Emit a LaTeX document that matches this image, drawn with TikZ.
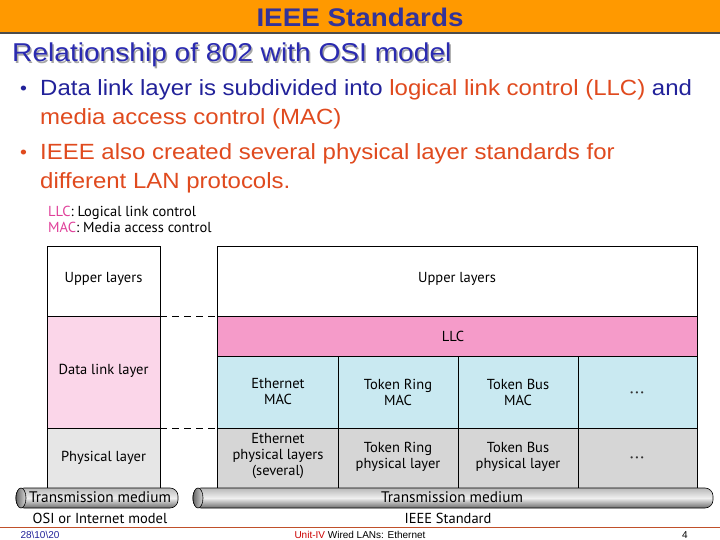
\documentclass[tikz,border=0pt]{standalone}
\usepackage{fontspec}
\setmainfont{Liberation Sans}
\newfontfamily\wide[FakeStretch=1.09]{Liberation Sans}
\newfontfamily\dfont{PT Sans}
\definecolor{tblue}{HTML}{333399}
\definecolor{sblue}{HTML}{2A2AB0}
\definecolor{bblue}{HTML}{22229A}
\definecolor{bred}{HTML}{E04A1E}
\definecolor{orangeband}{HTML}{FF9900}
\definecolor{pinkL}{HTML}{FBD6E9}
\definecolor{pinkLLC}{HTML}{F59BC9}
\definecolor{macblue}{HTML}{C9E9F1}
\definecolor{grayL}{HTML}{E6E6E6}
\definecolor{grayR}{HTML}{D6D6D6}
\definecolor{legpink}{HTML}{E0409A}
\definecolor{footred}{HTML}{C0502A}
\tikzset{
  cell/.style={draw=black, line width=0.6pt, inner sep=0pt},
  dtext/.style={font=\dfont\fontsize{14.5}{16}\selectfont, align=center, text=black},
  btext/.style={font=\wide\fontsize{22}{24}\selectfont, anchor=base west, inner sep=0pt},
  tube/.style={top color=gray!55, bottom color=gray!85!black, middle color=gray!12, draw=black, line width=0.6pt},
  dashline/.style={dash pattern=on 7pt off 5pt, line width=0.8pt},
  foot/.style={font=\fontsize{10}{12}\selectfont, anchor=base, inner sep=0pt},
  dots/.style={font=\fontsize{8}{8}\selectfont, text=black!80}
}
\begin{document}
\begin{tikzpicture}[x=1pt,y=-1pt]
\useasboundingbox (0,0) rectangle (720,540);
\fill[white] (0,0) rectangle (720,540);
% title band
\fill[gray!60!black] (0,31) rectangle (720,34);
\fill[orangeband] (0,0) rectangle (720,32);
\node[font=\wide\bfseries\fontsize{25.5}{27}\selectfont, text=tblue, anchor=base, inner sep=0pt] (title) at (360,27) {IEEE Standards};
\node[font=\wide\fontsize{25.8}{28}\selectfont, text=gray!70, anchor=base west, inner sep=0pt] (subsh) at (13.5,63.5) {Relationship of 802 with OSI model};
\node[font=\wide\fontsize{25.8}{28}\selectfont, text=sblue, anchor=base west, inner sep=0pt] (sub) at (12,62) {Relationship of 802 with OSI model};
% bullets
\node[btext, text=bblue, font=\wide\fontsize{18}{20}\selectfont] (b1d) at (20,95) {•};
\node[btext] (l1) at (40,96) {\textcolor{bblue}{Data link layer is subdivided into}\ \textcolor{bred}{logical link control (LLC)}\ \textcolor{bblue}{and}};
\node[btext, text=bred] (l2) at (40,125) {media access control (MAC)};
\node[btext, text=bred, font=\wide\fontsize{18}{20}\selectfont] (b2d) at (20,159) {•};
\node[btext, text=bred] (l3) at (40,160) {IEEE also created several physical layer standards for};
\node[btext, text=bred] (l4) at (40,189) {different LAN protocols.};
% legend
\node[dtext, anchor=base west, inner sep=0pt] (leg1) at (48,216) {\textcolor{legpink}{LLC}: Logical link control};
\node[dtext, anchor=base west, inner sep=0pt] (leg2) at (48,233) {\textcolor{legpink}{MAC}: Media access control};
% left column
\draw[cell, fill=white] (47,246) rectangle (160,316);
\draw[cell, fill=pinkL] (47,316) rectangle (160,428);
\draw[cell, fill=grayL] (47,428) rectangle (160,488);
\node[dtext] (lup) at (103.5,279) {Upper layers};
\node[dtext] (ldl) at (103.5,371) {Data link layer};
\node[dtext] (lph) at (103.5,458) {Physical layer};
% dashed lines
\coordinate (d1a) at (160,316); \coordinate (d1b) at (217,316);
\coordinate (d2a) at (160,428); \coordinate (d2b) at (217,428);
\draw[dashline] (d1a) -- (d1b);
\draw[dashline] (d2a) -- (d2b);
% right column
\draw[cell, fill=white] (217,246) rectangle (697,316);
\draw[cell, fill=pinkLLC] (217,316) rectangle (697,356);
\foreach \a/\b in {217/338,338/458,458/578,578/697}{
  \draw[cell, fill=macblue] (\a,356) rectangle (\b,428);
  \draw[cell, fill=grayR] (\a,428) rectangle (\b,488);
}
\draw[line width=1pt] (217,316) -- (697,316);
\node[dtext] (rup) at (457,279) {Upper layers};
\node[dtext] (llc) at (453,336) {LLC};
\node[dtext] (em) at (278,392) {Ethernet\\MAC};
\node[dtext] (trm) at (398,392) {Token Ring\\MAC};
\node[dtext] (tbm) at (518,392) {Token Bus\\MAC};
\node[dots] (dm) at (637,394) {•\hspace{2.5pt}•\hspace{2.5pt}•};
\node[dtext] (ep) at (278,456) {Ethernet\\physical layers\\(several)};
\node[dtext] (trp) at (398,457) {Token Ring\\physical layer};
\node[dtext] (tbp) at (518,457) {Token Bus\\physical layer};
\node[dots] (dp) at (637,459) {•\hspace{2.5pt}•\hspace{2.5pt}•};
% tubes
\shade[tube, rounded corners=8pt] (16,488) rectangle (178,508);
\shade[left color=gray!80!black, right color=gray!30, draw=black, line width=0.6pt] (21,498) ellipse (5 and 10);
\node[dtext, font=\dfont\fontsize{15.3}{16}\selectfont] (ltm) at (100,497.5) {Transmission medium};
\shade[tube, rounded corners=8pt] (193,488) rectangle (713,508);
\shade[left color=gray!80!black, right color=gray!30, draw=black, line width=0.6pt] (198,498) ellipse (5 and 10);
\node[dtext, font=\dfont\fontsize{15.3}{16}\selectfont] (rtm) at (452,497.5) {Transmission medium};
\node[dtext] (osi) at (100,518) {OSI or Internet model};
\node[dtext] (ieee) at (448,518) {IEEE Standard};
% footer
\coordinate (fa) at (0,527.5); \coordinate (fb) at (720,527.5);
\draw[footred, line width=0.6pt] (fa) -- (fb);
\node[foot, text=bblue] (date) at (40,538) {28\textbackslash 10\textbackslash 20};
\node[foot] (unit) at (360,538) {\textcolor{red!80!black}{Unit-IV} Wired LANs: Ethernet};
\node[foot] (pg) at (685,538) {4};
\end{tikzpicture}
\end{document}
